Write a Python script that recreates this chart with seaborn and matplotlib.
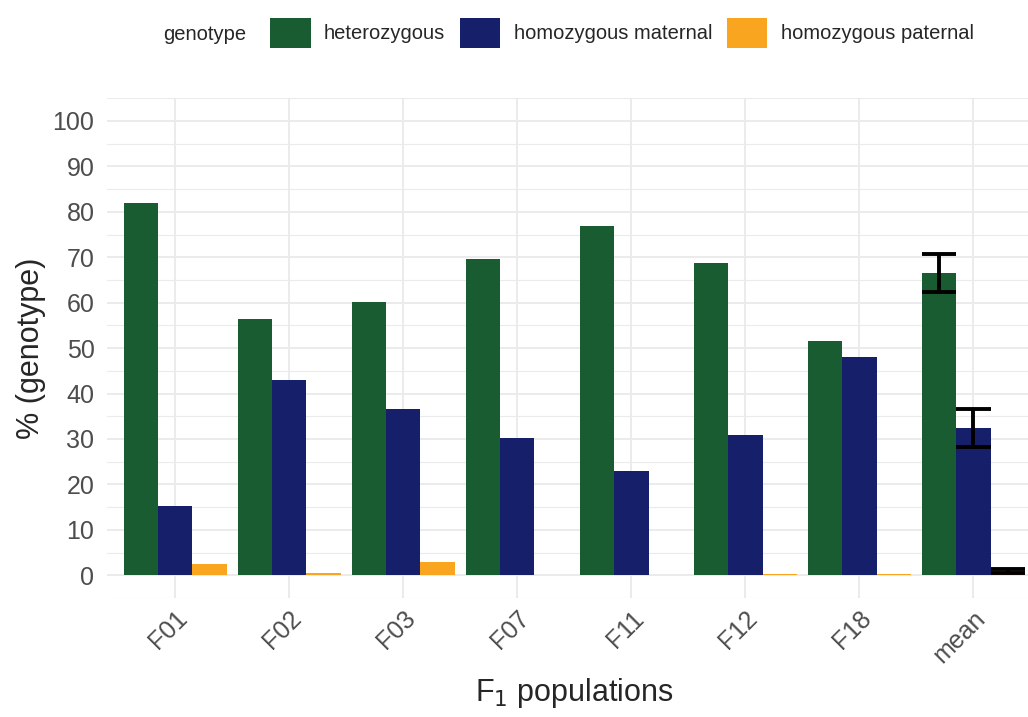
import numpy as np
import pandas as pd
import matplotlib
matplotlib.use("Agg")
import matplotlib.pyplot as plt
from matplotlib.patches import Patch
import seaborn as sns

# Genotype shares (%) per F1 population
populations = ["F01", "F02", "F03", "F07", "F11", "F12", "F18"]
heterozygous = [82.0, 56.4, 60.1, 69.6, 76.8, 68.7, 51.6]
homozygous_maternal = [15.2, 43.0, 36.5, 30.3, 23.0, 30.9, 48.0]
homozygous_paternal = [2.5, 0.4, 3.0, 0.0, 0.0, 0.3, 0.3]

genotypes = ["heterozygous", "homozygous maternal", "homozygous paternal"]
colors = ["#1a5c32", "#16206a", "#f9a51f"]
y_ticks = list(range(0, 101, 10))

# Long table: one row per population and genotype; the "mean" group
# holds all populations so the barplot estimates mean and standard error
records = []
for g, vals in zip(genotypes, [heterozygous, homozygous_maternal, homozygous_paternal]):
    for p, v in zip(populations, vals):
        records.append({"population": p, "genotype": g, "value": v})
        records.append({"population": "mean", "genotype": g, "value": v})
df = pd.DataFrame(records)
order = populations + ["mean"]

sns.set_theme(style="white")
plt.rcParams["font.family"] = ["Liberation Sans", "DejaVu Sans"]

fig = plt.figure(figsize=(10.28, 7.17), dpi=100)
ax = fig.add_axes([0.104, 0.166, 0.9095, 0.697])

sns.barplot(
    data=df, x="population", y="value", hue="genotype",
    order=order, hue_order=genotypes, palette=colors,
    estimator="mean", errorbar="se", capsize=0.9,
    err_kws={"color": "black", "linewidth": 2.8, "solid_capstyle": "butt"},
    saturation=1, width=0.9, linewidth=0, legend=False, ax=ax,
)

# Grid in the style of a minimal theme
ax.set_ylim(-5, 105)
ax.set_xlim(-0.6, len(order) - 0.4)
ax.set_yticks(y_ticks)
ax.set_yticks(np.arange(-5, 106, 10), minor=True)
ax.grid(which="major", axis="both", color="#ebebeb", linewidth=1.4)
ax.grid(which="minor", axis="y", color="#ebebeb", linewidth=0.8)
ax.set_axisbelow(True)
for s in ax.spines.values():
    s.set_visible(False)
ax.tick_params(axis="both", which="both", length=0)
ax.tick_params(axis="y", labelsize=18, labelcolor="#4d4d4d", pad=9)
ax.tick_params(axis="x", labelsize=18, labelcolor="#4d4d4d", pad=6)
for lbl in ax.get_xticklabels():
    lbl.set_rotation(45)
    lbl.set_ha("right")
    lbl.set_va("top")
    lbl.set_rotation_mode("anchor")

ax.set_ylabel("% (genotype)", fontsize=22, labelpad=5)
ax.set_xlabel("F$_1$ populations", fontsize=22, labelpad=6)

# Legend across the top with its title on the left
handles = [Patch(facecolor=c, edgecolor="none") for c in colors]
fig.text(163 / 1028, 1 - 34 / 717, "genotype", fontsize=14.5, va="center", ha="left")
fig.legend(
    handles, genotypes, ncol=3, loc="center",
    bbox_to_anchor=(622 / 1028, 1 - 33 / 717), frameon=False,
    fontsize=14.5, handlelength=2.0, handleheight=1.9,
    handletextpad=0.65, columnspacing=0.75, borderpad=0, borderaxespad=0,
)

fig.savefig("out.png", dpi=100)
